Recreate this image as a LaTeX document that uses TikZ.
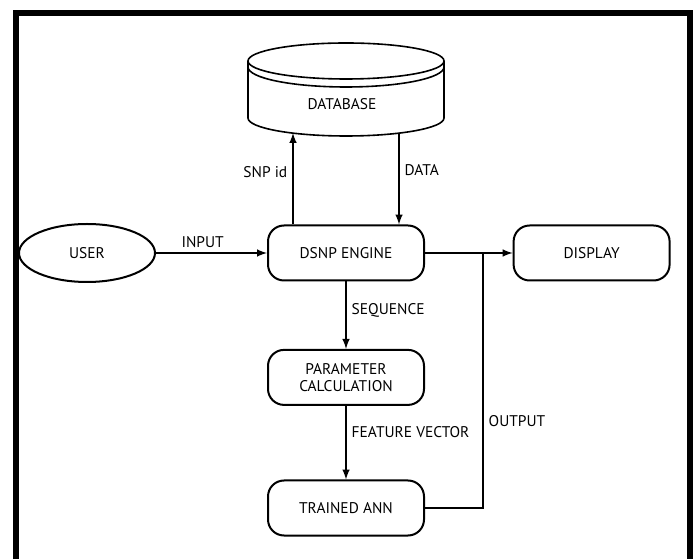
\documentclass[tikz,border=0pt]{standalone}
\usepackage{fontspec}
\setmainfont{PT Sans}
\usepackage{tikz}
\usetikzlibrary{shapes.geometric, arrows}
\tikzstyle{arrow} = [line width=0.5mm,->,>=latex]
\tikzstyle{block} = [draw, line width=0.5mm, rounded corners=0.4cm, minimum width=3.9cm, minimum height=1.375cm, align=center]
\tikzstyle{oval} = [draw, ellipse, line width=0.5mm, minimum width=3.4cm, minimum height=1.45cm]

\begin{document}
\begin{tikzpicture}[font=\fontsize{11}{12.5}\selectfont]
            \useasboundingbox (0,0) rectangle (17.325,13.975);
            \draw [line width=4.3pt] (0.4,0) -- (0.4,13.65) -- (17.26,13.65) -- (17.26,0);
            % database drum
            \draw [line width=0.4mm] (8.65,12.45) ellipse (2.45 and 0.45);
            \draw [line width=0.4mm] (6.2,12.3) arc (180:360:2.45 and 0.5);
            \draw [line width=0.4mm] (6.2,12.45) -- (6.2,11.025) arc (180:360:2.45 and 0.45) -- (11.1,12.45);
            \node (db) at (8.55,11.375) {DATABASE};
            \coordinate (dbbase) at (8.65,10.65);
            \node (user) [oval] at (2.175,7.65) {USER};
            \node (engine) [block] at (8.65,7.65) {DSNP ENGINE};
            \node (display) [block] at (14.79,7.65) {DISPLAY};
            \node (param) [block] at (8.65,4.54) {PARAMETER\\CALCULATION};
            \node (ann) [block] at (8.65,1.275) {TRAINED ANN};
            \coordinate (join) at (12.075,7.65);
            \draw [arrow] (user) -- node[above, pos=0.42] {INPUT} (engine);
            \draw [arrow] (engine) -- (display);
            \draw [arrow] ([xshift=-1.325cm]engine.north) -- node[left, pos=0.57] {SNP id} ([xshift=-1.325cm]engine.north |- dbbase);
            \draw [arrow] ([xshift=1.325cm]engine.north |- dbbase) -- node[right, pos=0.4] {DATA} ([xshift=1.325cm]engine.north);
            \draw [arrow] (engine) -- node[right, pos=0.43] {SEQUENCE} (param);
            \draw [arrow] (param) -- node[right, pos=0.36] {FEATURE VECTOR} (ann);
            \draw [line width=0.5mm] (ann) -| node[right, pos=0.67] {OUTPUT} (join);
        \end{tikzpicture}
\end{document}
